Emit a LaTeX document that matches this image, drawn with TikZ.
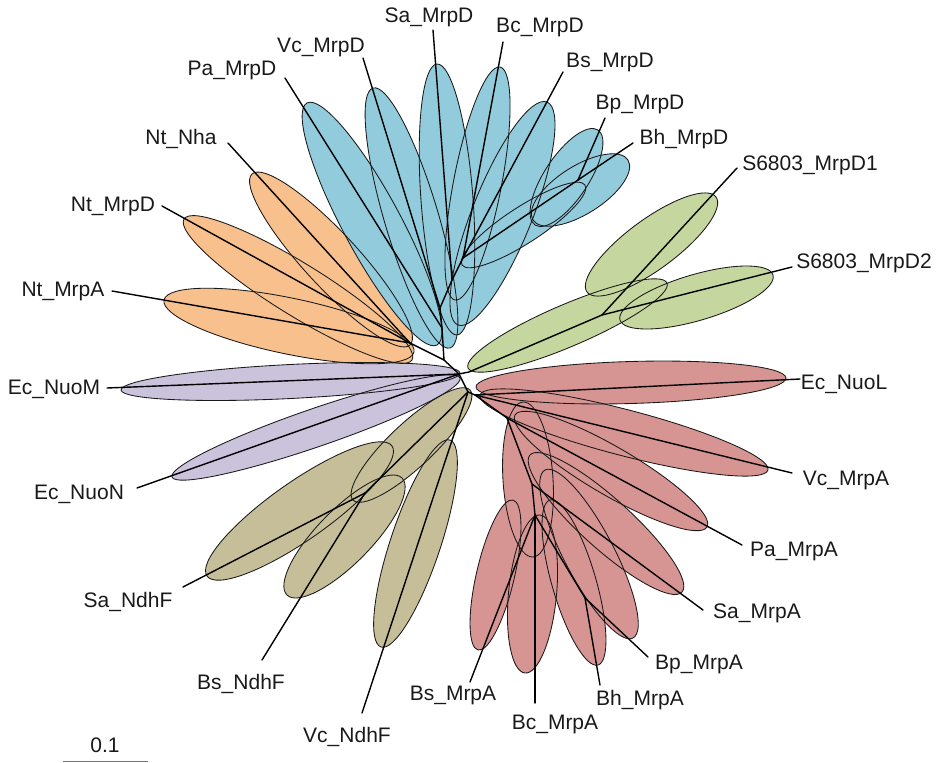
\documentclass[tikz,border=0pt]{standalone}
\usepackage{fontspec}
\setmainfont{Liberation Sans}
\usetikzlibrary{calc}

\definecolor{mrpdblue}{RGB}{146,203,220}
\definecolor{ntorange}{RGB}{247,192,141}
\definecolor{nuopurple}{RGB}{203,194,220}
\definecolor{ndhbrown}{RGB}{197,190,152}
\definecolor{mrpared}{RGB}{214,148,146}
\definecolor{synegreen}{RGB}{197,214,158}

\tikzset{
  branch/.style={line width=1.4pt, black, line cap=round},
  taxon/.style={font=\fontsize{21}{25}\selectfont, inner sep=0pt, anchor=base, text=black!90},
  petaledge/.style={draw=black!90, line width=0.85pt},
  scalebar/.style={line width=1.2pt, black!55},
}

% colour / end A (x,y) / end B (x,y) / half width  -- one ellipse per entry
\newcommand\petallist{%
  ntorange/252/174/410/345/27,
  ntorange/184/219/412/360/26,
  ntorange/164/300/414/352/28,
  nuopurple/121/390/460/373/17,
  nuopurple/172/477/460/378/19,
  ndhbrown/207/576/392/446/29,
  ndhbrown/287/595/402/478/27,
  ndhbrown/381/647/450/440/25,
  ndhbrown/353/500/470/390/22,
  mrpared/480/395/768/470/23,
  mrpared/476/387/786/378/21,
  mrpared/515/415/707/527/24,
  mrpared/530/455/682/592/25,
  mrpared/545/470/633/638/25,
  mrpared/550/500/598/665/22,
  mrpared/540/515/525/673/24,
  mrpared/513/500/478/650/19,
  mrpared/523/402/533/557/25,
  synegreen/587/292/716/197/25,
  synegreen/620/320/773/275/23,
  synegreen/468/368/667/283/21,
  mrpdblue/307/103/437/345/29,
  mrpdblue/373/88/450/348/27,
  mrpdblue/437/64/457/335/26,
  mrpdblue/500/67/455/300/24,
  mrpdblue/547/102/458/325/30,
  mrpdblue/598/130/535/225/22,
  mrpdblue/533/220/628/160/24,
  mrpdblue/462/265/585/185/18%
}

\begin{document}
\begin{tikzpicture}[x=1pt, y=-1pt]
\useasboundingbox (0,0) rectangle (943,763);

% ellipses: all fills first, then all outlines
\foreach \col/\xa/\ya/\xb/\yb/\rr in \petallist {
  \path[fill=\col] let \p1=(\xa,\ya), \p2=(\xb,\yb),
      \n1={atan2(\y2-\y1,\x2-\x1)}, \n2={veclen(\x2-\x1,\y2-\y1)/2} in
      ($(\p1)!0.5!(\p2)$) ellipse [x radius=\n2, y radius=\rr pt, rotate=\n1];
}
\foreach \col/\xa/\ya/\xb/\yb/\rr in \petallist {
  \path[petaledge] let \p1=(\xa,\ya), \p2=(\xb,\yb),
      \n1={atan2(\y2-\y1,\x2-\x1)}, \n2={veclen(\x2-\x1,\y2-\y1)/2} in
      ($(\p1)!0.5!(\p2)$) ellipse [x radius=\n2, y radius=\rr pt, rotate=\n1];
}

% internal nodes of the tree
\coordinate (root) at (459,374);
\coordinate (bo)   at (444,360);
\coordinate (bpa)  at (442,328);
\coordinate (b1)   at (440,308);
\coordinate (sab)  at (452,280);
\coordinate (bn)   at (463,258);
\coordinate (bpbh) at (578,180);
\coordinate (orn)  at (410,343);
\coordinate (g0)   at (469,372);
\coordinate (g1)   at (602,315);
\coordinate (rb)   at (468,392);
\coordinate (sabs) at (365,493);
\coordinate (r0)   at (475,395);
\coordinate (r1)   at (507,418);
\coordinate (r2)   at (532,484);
\coordinate (r3)   at (535,515);
\coordinate (r4)   at (585,598);

% free ends of the leaf branches
\coordinate (e-paD)  at (285,78);
\coordinate (e-vcD)  at (363,58);
\coordinate (e-saD)  at (433,30);
\coordinate (e-bcD)  at (503,42);
\coordinate (e-bsD)  at (563,72);
\coordinate (e-bpD)  at (605,118);
\coordinate (e-bhD)  at (633,143);
\coordinate (e-nha)  at (228,143);
\coordinate (e-ntD)  at (162,206);
\coordinate (e-ntA)  at (112,291);
\coordinate (e-nuoM) at (107,388);
\coordinate (e-nuoN) at (137,488);
\coordinate (e-d1)   at (737,168);
\coordinate (e-d2)   at (792,267);
\coordinate (e-nuoL) at (800,379);
\coordinate (e-vcA)  at (792,473);
\coordinate (e-paA)  at (742,545);
\coordinate (e-saA)  at (703,610);
\coordinate (e-bpA)  at (648,657);
\coordinate (e-bhA)  at (600,685);
\coordinate (e-bcA)  at (535,703);
\coordinate (e-bsA)  at (470,682);
\coordinate (e-saF)  at (183,587);
\coordinate (e-bsF)  at (262,660);
\coordinate (e-vcF)  at (362,713);

% internal branches
\draw[branch] (root) -- (bo) -- (bpa) -- (b1) -- (sab) -- (bn) -- (bpbh);
\draw[branch] (bo) -- (orn);
\draw[branch] (root) -- (g0) -- (g1);
\draw[branch] (root) -- (rb) -- (sabs);
\draw[branch] (rb) -- (r0) -- (r1) -- (r2) -- (r3) -- (r4);

% leaf branches
\draw[branch] (bpa)  -- (e-paD);
\draw[branch] (b1)   -- (e-vcD);
\draw[branch] (sab)  -- (e-saD);
\draw[branch] (bn)   -- (e-bcD);
\draw[branch] (bn)   -- (e-bsD);
\draw[branch] (bpbh) -- (e-bpD);
\draw[branch] (bpbh) -- (e-bhD);
\draw[branch] (orn)  -- (e-nha);
\draw[branch] (orn)  -- (e-ntD);
\draw[branch] (orn)  -- (e-ntA);
\draw[branch] (root) -- (e-nuoM);
\draw[branch] (root) -- (e-nuoN);
\draw[branch] (g1)   -- (e-d1);
\draw[branch] (g1)   -- (e-d2);
\draw[branch] (r0)   -- (e-nuoL);
\draw[branch] (r0)   -- (e-vcA);
\draw[branch] (r1)   -- (e-paA);
\draw[branch] (r2)   -- (e-saA);
\draw[branch] (r4)   -- (e-bpA);
\draw[branch] (r4)   -- (e-bhA);
\draw[branch] (r3)   -- (e-bcA);
\draw[branch] (r3)   -- (e-bsA);
\draw[branch] (sabs) -- (e-saF);
\draw[branch] (sabs) -- (e-bsF);
\draw[branch] (rb)   -- (e-vcF);

% taxon labels
\node[taxon] (l-saD)  at (429,22.5)  {Sa\_MrpD};
\node[taxon] (l-bcD)  at (540,32.5)  {Bc\_MrpD};
\node[taxon] (l-vcD)  at (321,52)    {Vc\_MrpD};
\node[taxon] (l-bsD)  at (610,67)    {Bs\_MrpD};
\node[taxon] (l-paD)  at (232,75.5)  {Pa\_MrpD};
\node[taxon] (l-bpD)  at (640,109)   {Bp\_MrpD};
\node[taxon] (l-nha)  at (181,144)   {Nt\_Nha};
\node[taxon] (l-bhD)  at (684,144.5) {Bh\_MrpD};
\node[taxon] (l-d1)   at (810,170.5) {S6803\_MrpD1};
\node[taxon] (l-ntD)  at (113,211.5) {Nt\_MrpD};
\node[taxon] (l-d2)   at (864,268.5) {S6803\_MrpD2};
\node[taxon] (l-ntA)  at (63,296.5)  {Nt\_MrpA};
\node[taxon] (l-nuoM) at (54,394.5)  {Ec\_NuoM};
\node[taxon] (l-nuoL) at (844,389.5) {Ec\_NuoL};
\node[taxon] (l-vcA)  at (846,485.5) {Vc\_MrpA};
\node[taxon] (l-nuoN) at (79,499.5)  {Ec\_NuoN};
\node[taxon] (l-paA)  at (794,556)   {Pa\_MrpA};
\node[taxon] (l-saF)  at (128,607)   {Sa\_NdhF};
\node[taxon] (l-saA)  at (757,618.5) {Sa\_MrpA};
\node[taxon] (l-bpA)  at (699,669)   {Bp\_MrpA};
\node[taxon] (l-bsF)  at (241,689.5) {Bs\_NdhF};
\node[taxon] (l-bhA)  at (640,705)   {Bh\_MrpA};
\node[taxon] (l-bsA)  at (453,700.5) {Bs\_MrpA};
\node[taxon] (l-bcA)  at (555,729)   {Bc\_MrpA};
\node[taxon] (l-vcF)  at (347,742.5) {Vc\_NdhF};

% scale bar
\coordinate (sb-a) at (63,761.5);
\coordinate (sb-b) at (148,761.5);
\draw[scalebar] (sb-a) -- (sb-b);
\node[taxon] (sb-label) at (105,752.5) {0.1};
\end{tikzpicture}
\end{document}
